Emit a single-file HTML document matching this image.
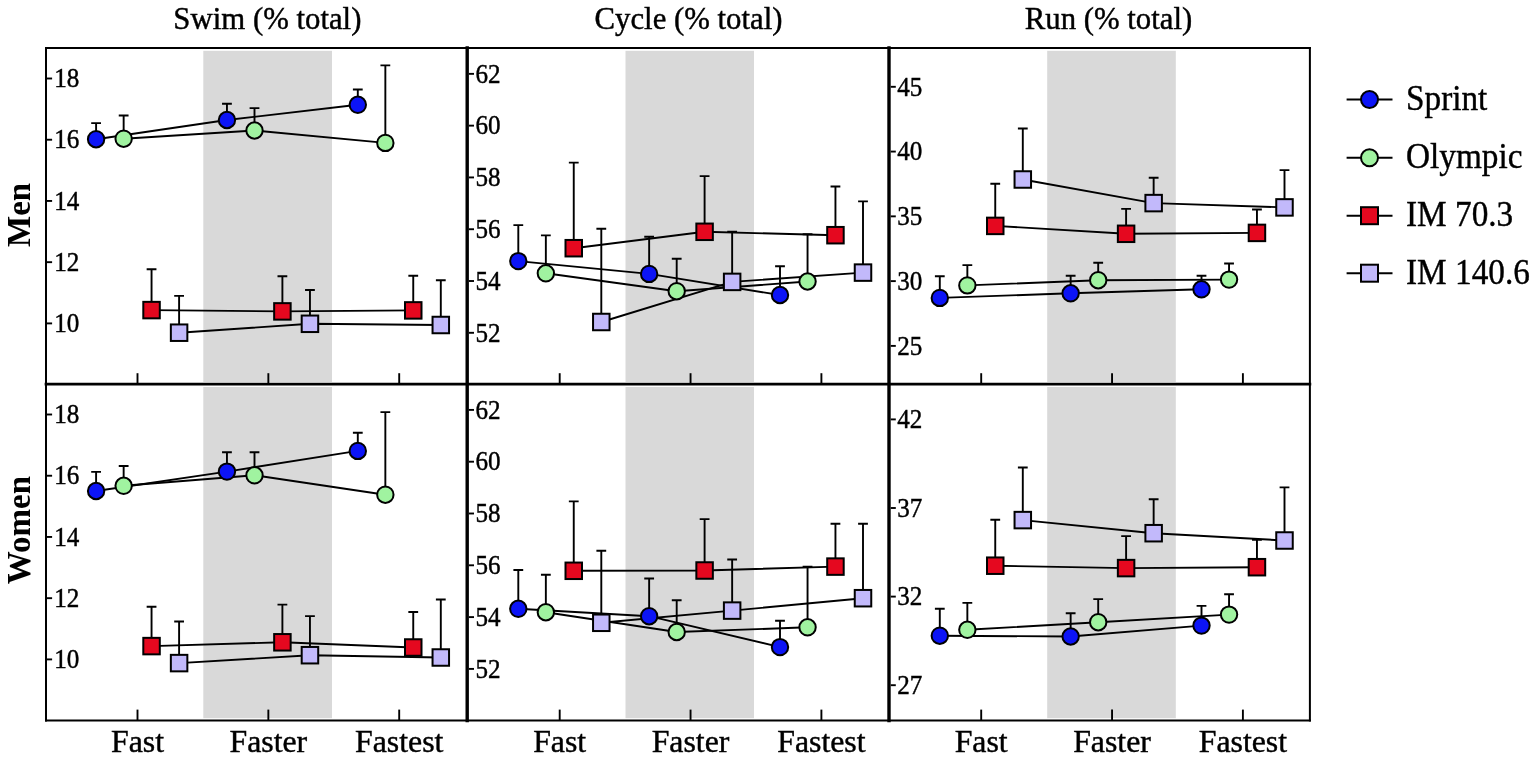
<!DOCTYPE html><html><head><meta charset="utf-8"><style>html,body{margin:0;padding:0;background:#fff;}svg{display:block;}text{font-family:"Liberation Serif","Times New Roman",serif;fill:#000;}</style></head><body>
<svg width="1535" height="758" viewBox="0 0 1535 758">
<rect x="0" y="0" width="1535" height="758" fill="#fff"/>
<rect x="203.3" y="50.8" width="128.70" height="331.20" fill="#d9d9d9"/>
<rect x="203.3" y="387.0" width="128.70" height="331.20" fill="#d9d9d9"/>
<rect x="625.5" y="50.8" width="128.50" height="331.20" fill="#d9d9d9"/>
<rect x="625.5" y="387.0" width="128.50" height="331.20" fill="#d9d9d9"/>
<rect x="1047.2" y="50.8" width="128.60" height="331.20" fill="#d9d9d9"/>
<rect x="1047.2" y="387.0" width="128.60" height="331.20" fill="#d9d9d9"/>
<g stroke="#000" fill="none" stroke-linecap="square">
<line x1="46.0" y1="47.9" x2="1309.9" y2="47.9" stroke-width="2"/>
<line x1="46.0" y1="384.2" x2="1309.9" y2="384.2" stroke-width="2.7"/>
<line x1="46.0" y1="720.6" x2="1309.9" y2="720.6" stroke-width="2"/>
<line x1="46.0" y1="47.9" x2="46.0" y2="720.6" stroke-width="2"/>
<line x1="1309.9" y1="47.9" x2="1309.9" y2="720.6" stroke-width="2"/>
<line x1="467.2" y1="47.9" x2="467.2" y2="720.6" stroke-width="3.4"/>
<line x1="889.0" y1="47.9" x2="889.0" y2="720.6" stroke-width="3.4"/>
</g>
<g stroke="#000" stroke-width="1.9">
<line x1="47.0" y1="78.50" x2="52.1" y2="78.50"/>
<line x1="47.0" y1="139.72" x2="52.1" y2="139.72"/>
<line x1="47.0" y1="200.95" x2="52.1" y2="200.95"/>
<line x1="47.0" y1="262.17" x2="52.1" y2="262.17"/>
<line x1="47.0" y1="323.40" x2="52.1" y2="323.40"/>
<line x1="47.0" y1="414.50" x2="52.1" y2="414.50"/>
<line x1="47.0" y1="475.73" x2="52.1" y2="475.73"/>
<line x1="47.0" y1="536.95" x2="52.1" y2="536.95"/>
<line x1="47.0" y1="598.17" x2="52.1" y2="598.17"/>
<line x1="47.0" y1="659.40" x2="52.1" y2="659.40"/>
<line x1="468.9" y1="73.85" x2="474.0" y2="73.85"/>
<line x1="468.9" y1="125.64" x2="474.0" y2="125.64"/>
<line x1="468.9" y1="177.43" x2="474.0" y2="177.43"/>
<line x1="468.9" y1="229.22" x2="474.0" y2="229.22"/>
<line x1="468.9" y1="281.01" x2="474.0" y2="281.01"/>
<line x1="468.9" y1="332.80" x2="474.0" y2="332.80"/>
<line x1="468.9" y1="409.90" x2="474.0" y2="409.90"/>
<line x1="468.9" y1="461.70" x2="474.0" y2="461.70"/>
<line x1="468.9" y1="513.50" x2="474.0" y2="513.50"/>
<line x1="468.9" y1="565.30" x2="474.0" y2="565.30"/>
<line x1="468.9" y1="617.10" x2="474.0" y2="617.10"/>
<line x1="468.9" y1="668.90" x2="474.0" y2="668.90"/>
<line x1="890.7" y1="86.80" x2="895.8" y2="86.80"/>
<line x1="890.7" y1="151.57" x2="895.8" y2="151.57"/>
<line x1="890.7" y1="216.35" x2="895.8" y2="216.35"/>
<line x1="890.7" y1="281.12" x2="895.8" y2="281.12"/>
<line x1="890.7" y1="345.90" x2="895.8" y2="345.90"/>
<line x1="890.7" y1="419.40" x2="895.8" y2="419.40"/>
<line x1="890.7" y1="508.00" x2="895.8" y2="508.00"/>
<line x1="890.7" y1="596.60" x2="895.8" y2="596.60"/>
<line x1="890.7" y1="685.20" x2="895.8" y2="685.20"/>
</g>
<g font-size="27.3" stroke="#000" stroke-width="0.45">
<text transform="translate(54.2,87.20) scale(0.92,1)">18</text>
<text transform="translate(54.2,148.42) scale(0.92,1)">16</text>
<text transform="translate(54.2,209.65) scale(0.92,1)">14</text>
<text transform="translate(54.2,270.87) scale(0.92,1)">12</text>
<text transform="translate(54.2,332.10) scale(0.92,1)">10</text>
<text transform="translate(54.2,423.20) scale(0.92,1)">18</text>
<text transform="translate(54.2,484.43) scale(0.92,1)">16</text>
<text transform="translate(54.2,545.65) scale(0.92,1)">14</text>
<text transform="translate(54.2,606.88) scale(0.92,1)">12</text>
<text transform="translate(54.2,668.10) scale(0.92,1)">10</text>
<text transform="translate(475.4,82.55) scale(0.92,1)">62</text>
<text transform="translate(475.4,134.34) scale(0.92,1)">60</text>
<text transform="translate(475.4,186.13) scale(0.92,1)">58</text>
<text transform="translate(475.4,237.92) scale(0.92,1)">56</text>
<text transform="translate(475.4,289.71) scale(0.92,1)">54</text>
<text transform="translate(475.4,341.50) scale(0.92,1)">52</text>
<text transform="translate(475.4,418.60) scale(0.92,1)">62</text>
<text transform="translate(475.4,470.40) scale(0.92,1)">60</text>
<text transform="translate(475.4,522.20) scale(0.92,1)">58</text>
<text transform="translate(475.4,574.00) scale(0.92,1)">56</text>
<text transform="translate(475.4,625.80) scale(0.92,1)">54</text>
<text transform="translate(475.4,677.60) scale(0.92,1)">52</text>
<text transform="translate(897.2,95.50) scale(0.92,1)">45</text>
<text transform="translate(897.2,160.27) scale(0.92,1)">40</text>
<text transform="translate(897.2,225.05) scale(0.92,1)">35</text>
<text transform="translate(897.2,289.82) scale(0.92,1)">30</text>
<text transform="translate(897.2,354.60) scale(0.92,1)">25</text>
<text transform="translate(897.2,428.10) scale(0.92,1)">42</text>
<text transform="translate(897.2,516.70) scale(0.92,1)">37</text>
<text transform="translate(897.2,605.30) scale(0.92,1)">32</text>
<text transform="translate(897.2,693.90) scale(0.92,1)">27</text>
</g>
<g stroke="#000" stroke-width="1.9">
<line x1="137.50" y1="373.2" x2="137.50" y2="384.2"/>
<line x1="137.50" y1="709.6" x2="137.50" y2="720.6"/>
<line x1="268.35" y1="373.2" x2="268.35" y2="384.2"/>
<line x1="268.35" y1="709.6" x2="268.35" y2="720.6"/>
<line x1="399.20" y1="373.2" x2="399.20" y2="384.2"/>
<line x1="399.20" y1="709.6" x2="399.20" y2="720.6"/>
<line x1="559.70" y1="373.2" x2="559.70" y2="384.2"/>
<line x1="559.70" y1="709.6" x2="559.70" y2="720.6"/>
<line x1="690.55" y1="373.2" x2="690.55" y2="384.2"/>
<line x1="690.55" y1="709.6" x2="690.55" y2="720.6"/>
<line x1="821.40" y1="373.2" x2="821.40" y2="384.2"/>
<line x1="821.40" y1="709.6" x2="821.40" y2="720.6"/>
<line x1="981.20" y1="373.2" x2="981.20" y2="384.2"/>
<line x1="981.20" y1="709.6" x2="981.20" y2="720.6"/>
<line x1="1112.05" y1="373.2" x2="1112.05" y2="384.2"/>
<line x1="1112.05" y1="709.6" x2="1112.05" y2="720.6"/>
<line x1="1242.90" y1="373.2" x2="1242.90" y2="384.2"/>
<line x1="1242.90" y1="709.6" x2="1242.90" y2="720.6"/>
</g>
<g stroke="#000" stroke-width="1.9" fill="none" stroke-linejoin="round">
<path d="M96.10,139.20 L226.95,120.00 L357.80,104.80"/>
<path d="M123.65,138.70 L254.50,130.50 L385.35,142.90"/>
<path d="M151.55,310.10 L282.40,311.40 L413.25,310.40"/>
<path d="M179.10,332.70 L309.95,323.80 L440.80,325.00"/>
<path d="M96.10,491.00 L226.95,471.60 L357.80,450.90"/>
<path d="M123.65,485.80 L254.50,475.30 L385.35,494.70"/>
<path d="M151.55,646.10 L282.40,642.30 L413.25,647.50"/>
<path d="M179.10,663.10 L309.95,655.20 L440.80,657.50"/>
<path d="M518.30,261.10 L649.15,273.90 L780.00,295.00"/>
<path d="M545.85,273.30 L676.70,291.20 L807.55,281.50"/>
<path d="M573.75,248.20 L704.60,231.80 L835.45,235.20"/>
<path d="M601.30,322.00 L732.15,281.90 L863.00,272.60"/>
<path d="M518.30,608.80 L649.15,616.20 L780.00,647.10"/>
<path d="M545.85,612.20 L676.70,632.00 L807.55,627.30"/>
<path d="M573.75,570.80 L704.60,570.50 L835.45,566.60"/>
<path d="M601.30,622.80 L732.15,610.60 L863.00,598.20"/>
<path d="M939.80,297.90 L1070.65,293.30 L1201.50,289.30"/>
<path d="M967.35,285.40 L1098.20,280.20 L1229.05,279.60"/>
<path d="M995.25,225.90 L1126.10,233.80 L1256.95,232.90"/>
<path d="M1022.80,179.50 L1153.65,203.10 L1284.50,207.40"/>
<path d="M939.80,635.70 L1070.65,636.50 L1201.50,625.60"/>
<path d="M967.35,629.80 L1098.20,622.20 L1229.05,614.60"/>
<path d="M995.25,565.70 L1126.10,568.10 L1256.95,567.20"/>
<path d="M1022.80,520.10 L1153.65,533.20 L1284.50,540.50"/>
</g>
<g stroke="#000" stroke-width="1.9" fill="none">
<path d="M96.10,139.20 V123.10 M91.20,123.10 H101.00"/>
<path d="M226.95,120.00 V103.80 M222.05,103.80 H231.85"/>
<path d="M357.80,104.80 V89.50 M352.90,89.50 H362.70"/>
<path d="M123.65,138.70 V115.50 M118.75,115.50 H128.55"/>
<path d="M254.50,130.50 V108.10 M249.60,108.10 H259.40"/>
<path d="M385.35,142.90 V65.40 M380.45,65.40 H390.25"/>
<path d="M151.55,310.10 V269.20 M146.65,269.20 H156.45"/>
<path d="M282.40,311.40 V276.30 M277.50,276.30 H287.30"/>
<path d="M413.25,310.40 V275.70 M408.35,275.70 H418.15"/>
<path d="M179.10,332.70 V295.90 M174.20,295.90 H184.00"/>
<path d="M309.95,323.80 V290.00 M305.05,290.00 H314.85"/>
<path d="M440.80,325.00 V280.30 M435.90,280.30 H445.70"/>
<path d="M96.10,491.00 V471.90 M91.20,471.90 H101.00"/>
<path d="M226.95,471.60 V452.20 M222.05,452.20 H231.85"/>
<path d="M357.80,450.90 V432.80 M352.90,432.80 H362.70"/>
<path d="M123.65,485.80 V466.00 M118.75,466.00 H128.55"/>
<path d="M254.50,475.30 V452.20 M249.60,452.20 H259.40"/>
<path d="M385.35,494.70 V412.10 M380.45,412.10 H390.25"/>
<path d="M151.55,646.10 V606.80 M146.65,606.80 H156.45"/>
<path d="M282.40,642.30 V604.60 M277.50,604.60 H287.30"/>
<path d="M413.25,647.50 V612.00 M408.35,612.00 H418.15"/>
<path d="M179.10,663.10 V621.50 M174.20,621.50 H184.00"/>
<path d="M309.95,655.20 V616.10 M305.05,616.10 H314.85"/>
<path d="M440.80,657.50 V599.50 M435.90,599.50 H445.70"/>
<path d="M518.30,261.10 V225.10 M513.40,225.10 H523.20"/>
<path d="M649.15,273.90 V236.80 M644.25,236.80 H654.05"/>
<path d="M780.00,295.00 V266.30 M775.10,266.30 H784.90"/>
<path d="M545.85,273.30 V235.40 M540.95,235.40 H550.75"/>
<path d="M676.70,291.20 V258.80 M671.80,258.80 H681.60"/>
<path d="M807.55,281.50 V234.20 M802.65,234.20 H812.45"/>
<path d="M573.75,248.20 V162.60 M568.85,162.60 H578.65"/>
<path d="M704.60,231.80 V176.10 M699.70,176.10 H709.50"/>
<path d="M835.45,235.20 V186.50 M830.55,186.50 H840.35"/>
<path d="M601.30,322.00 V228.70 M596.40,228.70 H606.20"/>
<path d="M732.15,281.90 V231.80 M727.25,231.80 H737.05"/>
<path d="M863.00,272.60 V201.40 M858.10,201.40 H867.90"/>
<path d="M518.30,608.80 V570.00 M513.40,570.00 H523.20"/>
<path d="M649.15,616.20 V578.50 M644.25,578.50 H654.05"/>
<path d="M780.00,647.10 V620.70 M775.10,620.70 H784.90"/>
<path d="M545.85,612.20 V574.80 M540.95,574.80 H550.75"/>
<path d="M676.70,632.00 V600.30 M671.80,600.30 H681.60"/>
<path d="M807.55,627.30 V566.60 M802.65,566.60 H812.45"/>
<path d="M573.75,570.80 V501.40 M568.85,501.40 H578.65"/>
<path d="M704.60,570.50 V519.10 M699.70,519.10 H709.50"/>
<path d="M835.45,566.60 V523.80 M830.55,523.80 H840.35"/>
<path d="M601.30,622.80 V550.70 M596.40,550.70 H606.20"/>
<path d="M732.15,610.60 V559.50 M727.25,559.50 H737.05"/>
<path d="M863.00,598.20 V523.80 M858.10,523.80 H867.90"/>
<path d="M939.80,297.90 V276.30 M934.90,276.30 H944.70"/>
<path d="M1070.65,293.30 V275.70 M1065.75,275.70 H1075.55"/>
<path d="M1201.50,289.30 V275.70 M1196.60,275.70 H1206.40"/>
<path d="M967.35,285.40 V265.10 M962.45,265.10 H972.25"/>
<path d="M1098.20,280.20 V262.80 M1093.30,262.80 H1103.10"/>
<path d="M1229.05,279.60 V263.50 M1224.15,263.50 H1233.95"/>
<path d="M995.25,225.90 V183.70 M990.35,183.70 H1000.15"/>
<path d="M1126.10,233.80 V208.90 M1121.20,208.90 H1131.00"/>
<path d="M1256.95,232.90 V209.50 M1252.05,209.50 H1261.85"/>
<path d="M1022.80,179.50 V128.50 M1017.90,128.50 H1027.70"/>
<path d="M1153.65,203.10 V177.70 M1148.75,177.70 H1158.55"/>
<path d="M1284.50,207.40 V170.10 M1279.60,170.10 H1289.40"/>
<path d="M939.80,635.70 V608.80 M934.90,608.80 H944.70"/>
<path d="M1070.65,636.50 V613.20 M1065.75,613.20 H1075.55"/>
<path d="M1201.50,625.60 V605.90 M1196.60,605.90 H1206.40"/>
<path d="M967.35,629.80 V602.90 M962.45,602.90 H972.25"/>
<path d="M1098.20,622.20 V599.10 M1093.30,599.10 H1103.10"/>
<path d="M1229.05,614.60 V594.20 M1224.15,594.20 H1233.95"/>
<path d="M995.25,565.70 V519.80 M990.35,519.80 H1000.15"/>
<path d="M1126.10,568.10 V536.10 M1121.20,536.10 H1131.00"/>
<path d="M1256.95,567.20 V539.90 M1252.05,539.90 H1261.85"/>
<path d="M1022.80,520.10 V467.50 M1017.90,467.50 H1027.70"/>
<path d="M1153.65,533.20 V499.30 M1148.75,499.30 H1158.55"/>
<path d="M1284.50,540.50 V487.40 M1279.60,487.40 H1289.40"/>
</g>
<g stroke="#000" stroke-width="2">
<circle cx="96.10" cy="139.20" r="8.2" fill="#0c14f6"/>
<circle cx="226.95" cy="120.00" r="8.2" fill="#0c14f6"/>
<circle cx="357.80" cy="104.80" r="8.2" fill="#0c14f6"/>
<circle cx="123.65" cy="138.70" r="8.2" fill="#a0f3a0"/>
<circle cx="254.50" cy="130.50" r="8.2" fill="#a0f3a0"/>
<circle cx="385.35" cy="142.90" r="8.2" fill="#a0f3a0"/>
<rect x="143.30" y="301.85" width="16.5" height="16.5" fill="#e5081f"/>
<rect x="274.15" y="303.15" width="16.5" height="16.5" fill="#e5081f"/>
<rect x="405.00" y="302.15" width="16.5" height="16.5" fill="#e5081f"/>
<rect x="170.85" y="324.45" width="16.5" height="16.5" fill="#c2b9fb"/>
<rect x="301.70" y="315.55" width="16.5" height="16.5" fill="#c2b9fb"/>
<rect x="432.55" y="316.75" width="16.5" height="16.5" fill="#c2b9fb"/>
<circle cx="96.10" cy="491.00" r="8.2" fill="#0c14f6"/>
<circle cx="226.95" cy="471.60" r="8.2" fill="#0c14f6"/>
<circle cx="357.80" cy="450.90" r="8.2" fill="#0c14f6"/>
<circle cx="123.65" cy="485.80" r="8.2" fill="#a0f3a0"/>
<circle cx="254.50" cy="475.30" r="8.2" fill="#a0f3a0"/>
<circle cx="385.35" cy="494.70" r="8.2" fill="#a0f3a0"/>
<rect x="143.30" y="637.85" width="16.5" height="16.5" fill="#e5081f"/>
<rect x="274.15" y="634.05" width="16.5" height="16.5" fill="#e5081f"/>
<rect x="405.00" y="639.25" width="16.5" height="16.5" fill="#e5081f"/>
<rect x="170.85" y="654.85" width="16.5" height="16.5" fill="#c2b9fb"/>
<rect x="301.70" y="646.95" width="16.5" height="16.5" fill="#c2b9fb"/>
<rect x="432.55" y="649.25" width="16.5" height="16.5" fill="#c2b9fb"/>
<circle cx="518.30" cy="261.10" r="8.2" fill="#0c14f6"/>
<circle cx="649.15" cy="273.90" r="8.2" fill="#0c14f6"/>
<circle cx="780.00" cy="295.00" r="8.2" fill="#0c14f6"/>
<circle cx="545.85" cy="273.30" r="8.2" fill="#a0f3a0"/>
<circle cx="676.70" cy="291.20" r="8.2" fill="#a0f3a0"/>
<circle cx="807.55" cy="281.50" r="8.2" fill="#a0f3a0"/>
<rect x="565.50" y="239.95" width="16.5" height="16.5" fill="#e5081f"/>
<rect x="696.35" y="223.55" width="16.5" height="16.5" fill="#e5081f"/>
<rect x="827.20" y="226.95" width="16.5" height="16.5" fill="#e5081f"/>
<rect x="593.05" y="313.75" width="16.5" height="16.5" fill="#c2b9fb"/>
<rect x="723.90" y="273.65" width="16.5" height="16.5" fill="#c2b9fb"/>
<rect x="854.75" y="264.35" width="16.5" height="16.5" fill="#c2b9fb"/>
<circle cx="518.30" cy="608.80" r="8.2" fill="#0c14f6"/>
<circle cx="649.15" cy="616.20" r="8.2" fill="#0c14f6"/>
<circle cx="780.00" cy="647.10" r="8.2" fill="#0c14f6"/>
<circle cx="545.85" cy="612.20" r="8.2" fill="#a0f3a0"/>
<circle cx="676.70" cy="632.00" r="8.2" fill="#a0f3a0"/>
<circle cx="807.55" cy="627.30" r="8.2" fill="#a0f3a0"/>
<rect x="565.50" y="562.55" width="16.5" height="16.5" fill="#e5081f"/>
<rect x="696.35" y="562.25" width="16.5" height="16.5" fill="#e5081f"/>
<rect x="827.20" y="558.35" width="16.5" height="16.5" fill="#e5081f"/>
<rect x="593.05" y="614.55" width="16.5" height="16.5" fill="#c2b9fb"/>
<rect x="723.90" y="602.35" width="16.5" height="16.5" fill="#c2b9fb"/>
<rect x="854.75" y="589.95" width="16.5" height="16.5" fill="#c2b9fb"/>
<circle cx="939.80" cy="297.90" r="8.2" fill="#0c14f6"/>
<circle cx="1070.65" cy="293.30" r="8.2" fill="#0c14f6"/>
<circle cx="1201.50" cy="289.30" r="8.2" fill="#0c14f6"/>
<circle cx="967.35" cy="285.40" r="8.2" fill="#a0f3a0"/>
<circle cx="1098.20" cy="280.20" r="8.2" fill="#a0f3a0"/>
<circle cx="1229.05" cy="279.60" r="8.2" fill="#a0f3a0"/>
<rect x="987.00" y="217.65" width="16.5" height="16.5" fill="#e5081f"/>
<rect x="1117.85" y="225.55" width="16.5" height="16.5" fill="#e5081f"/>
<rect x="1248.70" y="224.65" width="16.5" height="16.5" fill="#e5081f"/>
<rect x="1014.55" y="171.25" width="16.5" height="16.5" fill="#c2b9fb"/>
<rect x="1145.40" y="194.85" width="16.5" height="16.5" fill="#c2b9fb"/>
<rect x="1276.25" y="199.15" width="16.5" height="16.5" fill="#c2b9fb"/>
<circle cx="939.80" cy="635.70" r="8.2" fill="#0c14f6"/>
<circle cx="1070.65" cy="636.50" r="8.2" fill="#0c14f6"/>
<circle cx="1201.50" cy="625.60" r="8.2" fill="#0c14f6"/>
<circle cx="967.35" cy="629.80" r="8.2" fill="#a0f3a0"/>
<circle cx="1098.20" cy="622.20" r="8.2" fill="#a0f3a0"/>
<circle cx="1229.05" cy="614.60" r="8.2" fill="#a0f3a0"/>
<rect x="987.00" y="557.45" width="16.5" height="16.5" fill="#e5081f"/>
<rect x="1117.85" y="559.85" width="16.5" height="16.5" fill="#e5081f"/>
<rect x="1248.70" y="558.95" width="16.5" height="16.5" fill="#e5081f"/>
<rect x="1014.55" y="511.85" width="16.5" height="16.5" fill="#c2b9fb"/>
<rect x="1145.40" y="524.95" width="16.5" height="16.5" fill="#c2b9fb"/>
<rect x="1276.25" y="532.25" width="16.5" height="16.5" fill="#c2b9fb"/>
</g>
<g font-size="32.4" text-anchor="middle" stroke="#000" stroke-width="0.45">
<text transform="translate(267.4,28.7) scale(0.95,1)">Swim (% total)</text>
<text transform="translate(688.5,28.7) scale(0.95,1)">Cycle (% total)</text>
<text transform="translate(1108.5,28.7) scale(0.95,1)">Run (% total)</text>
</g>
<g font-size="31.8" text-anchor="middle" stroke="#000" stroke-width="0.45">
<text x="137.50" y="751.8">Fast</text>
<text x="268.35" y="751.8">Faster</text>
<text x="399.20" y="751.8">Fastest</text>
<text x="559.70" y="751.8">Fast</text>
<text x="690.55" y="751.8">Faster</text>
<text x="821.40" y="751.8">Fastest</text>
<text x="981.20" y="751.8">Fast</text>
<text x="1112.05" y="751.8">Faster</text>
<text x="1242.90" y="751.8">Fastest</text>
</g>
<g font-size="33" font-weight="bold" text-anchor="middle">
<text transform="translate(29.7,214.9) rotate(-90)">Men</text>
<text transform="translate(29.7,530.1) rotate(-90)">Women</text>
</g>
<g stroke="#000" stroke-width="2">
<line x1="1346.6" y1="99.5" x2="1392.5" y2="99.5"/>
<circle cx="1369.5" cy="99.5" r="8.5" fill="#0c14f6"/>
<line x1="1346.6" y1="157.7" x2="1392.5" y2="157.7"/>
<circle cx="1369.5" cy="157.7" r="8.5" fill="#a0f3a0"/>
<line x1="1346.6" y1="215.7" x2="1392.5" y2="215.7"/>
<rect x="1361.0" y="207.2" width="17" height="17" fill="#e5081f"/>
<line x1="1346.6" y1="273.2" x2="1392.5" y2="273.2"/>
<rect x="1361.0" y="264.7" width="17" height="17" fill="#c2b9fb"/>
</g>
<g font-size="36" stroke="#000" stroke-width="0.4">
<text transform="translate(1406,110.1) scale(0.925,1)">Sprint</text>
<text transform="translate(1406,168.3) scale(0.925,1)">Olympic</text>
<text transform="translate(1406,226.3) scale(0.925,1)">IM 70.3</text>
<text transform="translate(1406,283.8) scale(0.925,1)">IM 140.6</text>
</g>
</svg></body></html>
